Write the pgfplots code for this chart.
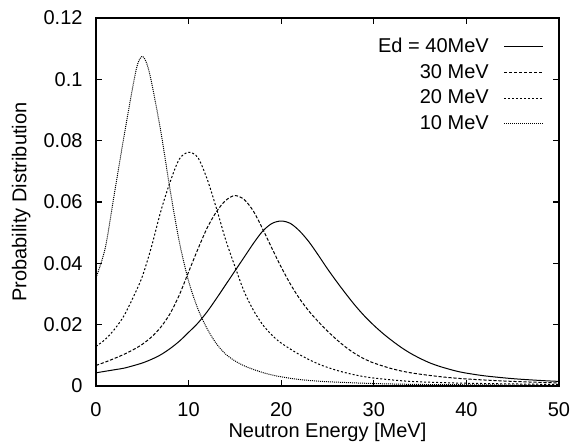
\documentclass[border=0pt]{standalone}
\usepackage{fontspec}
\setmainfont{Liberation Sans}
\usepackage{pgfplots}
\pgfplotsset{compat=1.18}
\begin{document}
\begin{tikzpicture}
\begin{axis}[
  scale only axis,
  width=231.5pt, height=184pt,
  at={(0,0)}, anchor=south west,
  xmin=0, xmax=50, ymin=0, ymax=0.12,
  xtick={0,10,20,30,40,50},
  xticklabels={0,10,20,30,40,50},
  ytick={0,0.02,0.04,0.06,0.08,0.1,0.12},
  yticklabels={0,0.02,0.04,0.06,0.08,0.1,0.12},
  tick align=inside, major tick length=2.9pt, minor tick num=0,
  xtick pos=both, ytick pos=both,
  axis line style={line width=0.6pt},
  every tick/.style={black, line width=0.6pt},
  xticklabel style={yshift=-4.5pt},
  yticklabel style={xshift=-3.2pt},
  every axis x label/.style={at={(axis description cs:0.5,0)}, anchor=base, yshift=-25.5pt},
  every axis y label/.style={at={(axis description cs:0,0.5)}, xshift=-34.75pt, rotate=90, anchor=base},
  xlabel={Neutron Energy [MeV]},
  ylabel={Probability Distribution},
  legend style={draw=none, fill=none, at={(rel axis cs:0.968,0.955)}, anchor=north east, inner sep=0pt, row sep=1.3pt,
    nodes={inner sep=1.5pt}},
  legend cell align=right,
  legend plot pos=right,
  legend image code/.code={\path (0pt,0pt); \draw[#1] (6pt,0pt) -- (25.5pt,0pt);},
  every axis plot/.append style={line width=0.5pt, black},
]
\addplot[smooth] coordinates {
(0,0.0043) (2,0.0053) (3,0.0058) (4,0.0066) (5,0.0075) (6,0.0087) (7,0.0102) (8,0.0122) (9,0.0146) (10,0.0175)
(11,0.0205) (12,0.0242) (13,0.0285) (14,0.0330) (15,0.0375) (16,0.0420) (17,0.0465) (18,0.0505) (19,0.0530) (20,0.0538)
(21,0.0530) (22,0.0505) (23,0.0470) (24,0.0427) (25,0.0382) (26,0.0340) (27,0.0300) (28,0.0262) (29,0.0228) (30,0.0198)
(31,0.0171) (32,0.0147) (33,0.0125) (34,0.0106) (35,0.0090) (36,0.0076) (37,0.0065) (38,0.0056) (39,0.0048) (40,0.0042)
(42,0.0033) (45,0.0024) (48,0.0018) (50,0.0015)
};
\addlegendentry{Ed = 40MeV}
\addplot[smooth, dash pattern=on 1.6pt off 0.9pt] coordinates {
(0,0.0067) (1,0.0078) (2,0.0090) (3,0.0103) (4,0.0118) (5,0.0136) (6,0.0160) (7,0.0192) (8,0.0236) (9,0.0297)
(10,0.0372) (11,0.0446) (12,0.0515) (13,0.0568) (14,0.0605) (15,0.0621) (16,0.0608) (17,0.0570) (18,0.0512) (19,0.0449)
(20,0.0388) (21,0.0332) (22,0.0284) (23,0.0244) (24,0.0210) (25,0.0179) (26,0.0151) (27,0.0126) (28,0.0105) (29,0.0088)
(30,0.0075) (32,0.0056) (34,0.0043) (37,0.0031) (40,0.0023) (45,0.0015) (50,0.0010)
};
\addlegendentry{30 MeV}
\addplot[smooth, dash pattern=on 1pt off 1pt] coordinates {
(0,0.0129) (1,0.0152) (2,0.0185) (3,0.0228) (4,0.0288) (5,0.0357) (6,0.0455) (7,0.0570) (8,0.0665) (9,0.0740)
(10,0.0762) (11,0.0745) (12,0.0675) (13,0.0580) (14,0.0477) (15,0.0390) (16,0.0308) (17,0.0247) (18,0.0200) (19,0.0166)
(20,0.0140) (22,0.0102) (24,0.0072) (26,0.0051) (28,0.0036) (30,0.0026) (34,0.0015) (40,0.0009) (50,0.0005)
};
\addlegendentry{20 MeV}
\addplot[smooth, dash pattern=on 0.5pt off 0.5pt] coordinates {
(0,0.0353) (1,0.0450) (2,0.0630) (3,0.0810) (4,0.0980) (4.5,0.1050) (5,0.1075) (5.5,0.1050) (6,0.0990) (7,0.0830)
(8,0.0640) (9,0.0470) (10,0.0342) (11,0.0252) (12,0.0187) (13,0.0138) (14,0.0104) (15,0.0082) (16,0.0066) (17,0.0054)
(18,0.0044) (19,0.0036) (20,0.0030) (22,0.0021) (25,0.0014) (30,0.0008) (35,0.0005) (40,0.0004) (50,0.0002)
};
\addlegendentry{10 MeV}
\end{axis}
\pgfresetboundingbox
\path (-48pt,-27.5pt) rectangle (237pt,193pt);
\end{tikzpicture}
\end{document}
